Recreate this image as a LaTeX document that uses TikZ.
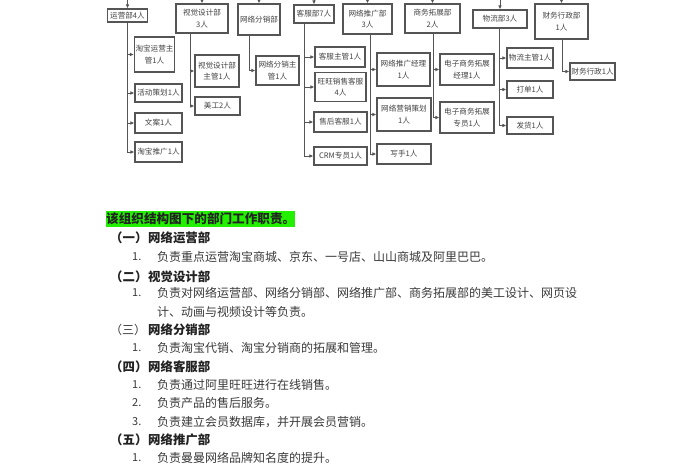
\documentclass[tikz,border=0pt]{standalone}
\usepackage{fontspec}
\setmainfont{Noto Sans CJK SC}
\usetikzlibrary{arrows.meta}
\definecolor{boxc}{HTML}{555555}
\definecolor{linec}{HTML}{555555}
\definecolor{chartc}{HTML}{444444}
\definecolor{bodyc}{HTML}{3A3A3A}
\definecolor{headc}{HTML}{222222}
\definecolor{hl}{HTML}{22F000}
\begin{document}
\begin{tikzpicture}[x=1pt,y=-1pt,
  box/.style={draw=boxc, line width=1.1pt, fill=white, inner sep=0pt, align=center,
    font=\fontsize{7.6}{11.5}\selectfont, text=chartc},
  conn/.style={draw=linec, line width=0.8pt},
  arr/.style={conn, -{Latex[length=4pt,width=3.6pt]}},
  body/.style={anchor=west, inner sep=0pt, text=bodyc, font=\fontsize{12}{14}\selectfont},
  head/.style={anchor=west, inner sep=0pt, text=headc, font=\fontsize{12.4}{14}\selectfont\bfseries},
  num/.style={anchor=west, inner sep=0pt, text=bodyc, font=\fontsize{11}{14}\selectfont}]
\useasboundingbox[fill=white] (0,0) rectangle (700,470);

% top-level departments
\node[box, minimum width=40pt, minimum height=13pt] (yy) at (127.5,15.5) {运营部4人};
\node[box, minimum width=52pt, minimum height=29pt] (sj) at (202,18.5) {视觉设计部\\3人};
\node[box, minimum width=42pt, minimum height=31pt] (fx) at (259,19.5) {网络分销部};
\node[box, minimum width=40pt, minimum height=18pt] (kf) at (314,14) {客服部7人};
\node[box, minimum width=49pt, minimum height=30pt] (tg) at (367.5,19) {网络推广部\\3人};
\node[box, minimum width=55pt, minimum height=29pt] (sw) at (432.5,18.5) {商务拓展部\\2人};
\node[box, minimum width=54pt, minimum height=18pt] (wl) at (500,19) {物流部3人};
\node[box, minimum width=53pt, minimum height=35pt] (cw) at (561.5,21.5) {财务行政部\\1人};

% incoming connectors from above
\coordinate (t1) at (127.5,-2);
\coordinate (t2) at (202,-2);
\coordinate (t3) at (259,-2);
\coordinate (t4) at (314,-2);
\coordinate (t5) at (367.5,-2);
\coordinate (t6) at (432.5,-2);
\coordinate (t7) at (500,-2);
\coordinate (t8) at (561.5,-2);
\draw[arr] (t1) -- (yy.north);
\draw[arr] (t2) -- (sj.north);
\draw[arr] (t3) -- (fx.north);
\draw[arr] (t4) -- (kf.north);
\draw[arr] (t5) -- (tg.north);
\draw[arr] (t6) -- (sw.north);
\draw[arr] (t7) -- (wl.north);
\draw[arr] (t8) -- (cw.north);

% sub units
\node[box, minimum width=40pt, minimum height=35pt] (yy1) at (154.5,54.5) {淘宝运营主\\管1人};
\node[box, minimum width=47pt, minimum height=18pt] (yy2) at (158.5,93) {活动策划1人};
\node[box, minimum width=47pt, minimum height=20pt] (yy3) at (158.5,123) {文案1人};
\node[box, minimum width=47pt, minimum height=20pt] (yy4) at (158.5,152) {淘宝推广1人};
\node[box, minimum width=44pt, minimum height=32pt] (sj1) at (217,71) {视觉设计部\\主管1人};
\node[box, minimum width=45pt, minimum height=18pt] (sj2) at (217.5,106) {美工2人};
\node[box, minimum width=43pt, minimum height=29pt] (fx1) at (277.5,70.5) {网络分销主\\管1人};
\node[box, minimum width=50pt, minimum height=20pt] (kf1) at (340,57) {客服主管1人};
\node[box, minimum width=51pt, minimum height=29pt] (kf2) at (340.5,87) {旺旺销售客服\\4人};
\node[box, minimum width=53pt, minimum height=20pt] (kf3) at (340.5,122) {售后客服1人};
\node[box, minimum width=53pt, minimum height=18pt] (kf4) at (340.5,156) {CRM专员1人};
\node[box, minimum width=53pt, minimum height=33pt] (tg1) at (403.5,69.5) {网络推广经理\\1人};
\node[box, minimum width=54pt, minimum height=33pt] (tg2) at (404,114.5) {网络营销策划\\1人};
\node[box, minimum width=54pt, minimum height=20pt] (tg3) at (404,154) {写手1人};
\node[box, minimum width=54pt, minimum height=31pt] (sw1) at (467,69.5) {电子商务拓展\\经理1人};
\node[box, minimum width=54pt, minimum height=31pt] (sw2) at (467,117.5) {电子商务拓展\\专员1人};
\node[box, minimum width=46pt, minimum height=20pt] (wl1) at (530,58) {物流主管1人};
\node[box, minimum width=46pt, minimum height=17pt] (wl2) at (530,89.5) {打单1人};
\node[box, minimum width=46pt, minimum height=17pt] (wl3) at (530,125.5) {发货1人};
\node[box, minimum width=45pt, minimum height=17pt] (cw1) at (592.5,71.5) {财务行政1人};

% trunks and branches
\foreach \p/\s/\c in {yy/-0.5/yy1, yy/-0.5/yy2, yy/-0.5/yy3, yy/-0.5/yy4,
                      sj/-12/sj1, sj/-12/sj2,
                      fx/-10/fx1,
                      kf/-10/kf1, kf/-10/kf2, kf/-10/kf3, kf/-10/kf4,
                      tg/2.5/tg1, tg/2.5/tg2, tg/2.5/tg3,
                      sw/0.5/sw1, sw/0.5/sw2,
                      wl/-1/wl1, wl/-1/wl2, wl/-1/wl3,
                      cw/0.5/cw1}
  \draw[arr] ([xshift=\s pt]\p.south) |- (\c.west);

% text section
\node[anchor=west, inner xsep=0pt, inner ysep=1.5pt, fill=hl, text=headc,
      font=\fontsize{12.6}{14}\selectfont\bfseries] (hdr) at (106,219) {该组织结构图下的部门工作职责。};

\node[head] (h1n) at (110,238) {（一）};
\node[head] (h1) at (148,238) {网络运营部};
\node[num] (n11) at (132,257) {1.};
\node[body] (b11) at (157,257) {负责重点运营淘宝商城、京东、一号店、山山商城及阿里巴巴。};

\node[head] (h2n) at (110,277) {（二）};
\node[head] (h2) at (148,277) {视觉设计部};
\node[num] (n21) at (132,293) {1.};
\node[body] (b21) at (157,293) {负责对网络运营部、网络分销部、网络推广部、商务拓展部的美工设计、网页设};
\node[body] (b22) at (157,312) {计、动画与视频设计等负责。};

\node[num, font=\fontsize{12}{14}\selectfont] (h3n) at (110,330) {（三）};
\node[head] (h3) at (148,330) {网络分销部};
\node[num] (n31) at (132,348) {1.};
\node[body] (b31) at (157,348) {负责淘宝代销、淘宝分销商的拓展和管理。};

\node[head] (h4n) at (110,367) {（四）};
\node[head] (h4) at (148,367) {网络客服部};
\node[num] (n41) at (132,385) {1.};
\node[body] (b41) at (157,385) {负责通过阿里旺旺进行在线销售。};
\node[num] (n42) at (132,403) {2.};
\node[body] (b42) at (157,403) {负责产品的售后服务。};
\node[num] (n43) at (132,422) {3.};
\node[body] (b43) at (157,422) {负责建立会员数据库，并开展会员营销。};

\node[head] (h5n) at (110,440) {（五）};
\node[head] (h5) at (148,440) {网络推广部};
\node[num] (n51) at (132,458) {1.};
\node[body] (b51) at (157,458) {负责曼曼网络品牌知名度的提升。};

\node[head] (h6n) at (110,477) {（六）};
\node[head] (h6) at (148,477) {商务拓展部};
\end{tikzpicture}
\end{document}
